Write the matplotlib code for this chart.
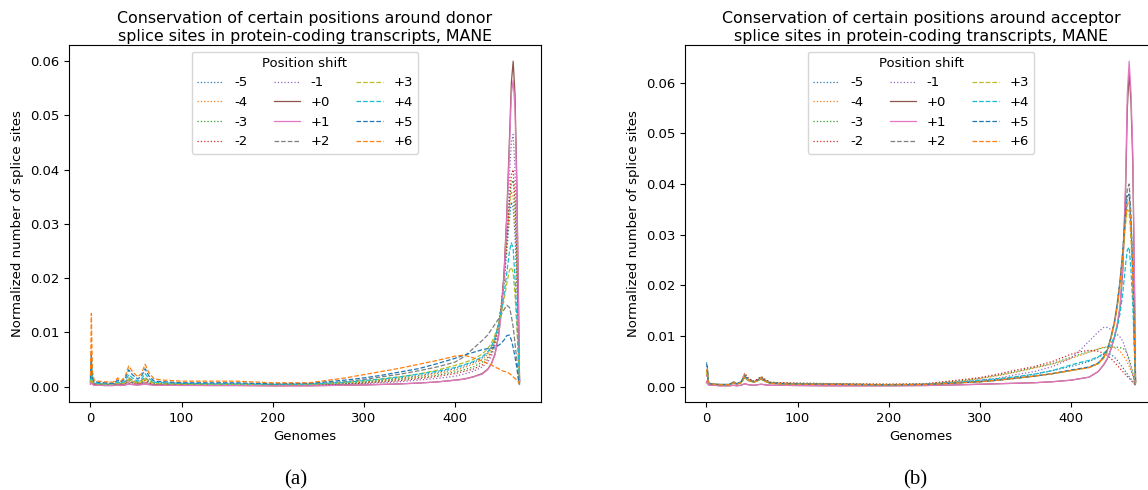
import matplotlib
matplotlib.use("Agg")
import matplotlib.pyplot as plt
import numpy as np

# ---------------- data (values in units of 1e-3) ----------------
genomes = [0, 1, 2, 4, 8, 15, 25, 30, 33, 38, 42, 46, 52, 56, 60, 64, 70, 80, 100, 130, 160,
           200, 240, 280, 300, 320, 340, 360, 380, 400, 410, 420, 430, 436, 440, 444, 448,
           451, 454, 457, 460, 462, 464, 466, 468, 470, 471]

shifts = ["-5", "-4", "-3", "-2", "-1", "+0", "+1", "+2", "+3", "+4", "+5", "+6"]

# Donor splice sites (panel a)
donor_m5 = [0.8, 3.0, 0.8, 0.4, 0.4, 0.35, 0.3, 0.6, 0.4, 0.6, 1.1, 0.8, 0.6, 0.7, 1.1, 0.8, 0.5, 0.45, 0.4, 0.35, 0.35,
            0.3, 0.35, 0.6, 0.85, 1.2, 1.6, 2.0, 2.6, 3.3, 3.8, 4.4, 5.3, 6.2, 7.2, 8.8, 11.5, 14.5, 19, 25, 31, 34, 33, 28, 19, 7, 0.6]
donor_m4 = [0.8, 3.0, 0.8, 0.4, 0.4, 0.35, 0.3, 0.6, 0.4, 0.6, 1.2, 0.9, 0.6, 0.8, 1.2, 0.8, 0.5, 0.45, 0.4, 0.35, 0.35,
            0.3, 0.32, 0.55, 0.8, 1.1, 1.45, 1.85, 2.4, 3.0, 3.5, 4.1, 5.0, 5.9, 6.9, 8.5, 11.5, 15, 20, 27, 33, 36, 35, 30, 21, 7.5, 0.6]
donor_m3 = [0.9, 3.5, 0.9, 0.4, 0.4, 0.35, 0.3, 0.6, 0.4, 0.6, 1.3, 0.9, 0.6, 0.8, 1.3, 0.8, 0.5, 0.45, 0.4, 0.35, 0.35,
            0.28, 0.3, 0.5, 0.7, 1.0, 1.3, 1.65, 2.1, 2.7, 3.1, 3.6, 4.5, 5.4, 6.4, 8.2, 11.5, 15, 20, 27, 34, 37.5, 38, 33, 23, 8, 0.6]
donor_m2 = [0.7, 2.5, 0.7, 0.35, 0.35, 0.3, 0.3, 0.5, 0.35, 0.5, 0.9, 0.7, 0.5, 0.6, 0.9, 0.6, 0.4, 0.4, 0.35, 0.3, 0.3,
            0.25, 0.27, 0.45, 0.6, 0.85, 1.1, 1.45, 1.85, 2.4, 2.8, 3.2, 4.0, 5.0, 6.0, 8.0, 11.5, 15, 20, 27, 35, 39, 40, 35, 25, 9, 0.7]
donor_m1 = [0.6, 2.0, 0.6, 0.3, 0.3, 0.25, 0.25, 0.4, 0.3, 0.4, 0.7, 0.5, 0.4, 0.5, 0.7, 0.5, 0.35, 0.3, 0.3, 0.25, 0.25,
            0.2, 0.22, 0.38, 0.5, 0.7, 0.9, 1.2, 1.5, 1.9, 2.3, 2.8, 3.6, 4.5, 5.5, 7.5, 11, 15, 21, 29, 39, 45, 46.5, 40, 28, 10, 0.8]
donor_p0 = [0.5, 1.5, 0.5, 0.3, 0.3, 0.2, 0.2, 0.3, 0.2, 0.3, 0.5, 0.4, 0.3, 0.4, 0.5, 0.4, 0.3, 0.3, 0.25, 0.2, 0.2,
            0.15, 0.15, 0.25, 0.3, 0.4, 0.5, 0.65, 0.85, 1.2, 1.4, 1.8, 2.4, 3.2, 4.2, 6.0, 9.5, 14, 21, 32, 46, 56, 60, 54, 38, 14, 1.0]
donor_p1 = [0.4, 1.2, 0.4, 0.25, 0.25, 0.2, 0.2, 0.3, 0.2, 0.3, 0.45, 0.35, 0.3, 0.35, 0.45, 0.35, 0.25, 0.25, 0.2, 0.2, 0.2,
            0.15, 0.15, 0.25, 0.3, 0.4, 0.5, 0.65, 0.85, 1.15, 1.35, 1.75, 2.3, 3.1, 4.1, 5.8, 9.2, 13.5, 20.5, 31, 44, 54, 56.5, 51, 36, 13, 1.0]
donor_p2 = [1.0, 4.0, 1.2, 0.6, 0.5, 0.5, 0.4, 0.8, 0.5, 0.8, 1.6, 1.2, 0.8, 1.1, 1.7, 1.1, 0.7, 0.6, 0.5, 0.5, 0.5,
            0.4, 0.45, 0.9, 1.3, 1.8, 2.3, 2.9, 3.6, 4.5, 5.5, 7.0, 8.5, 9.5, 10.5, 11.5, 12.5, 13.3, 14.2, 15.0, 14.6, 13.0, 11.0, 8.0, 5.0, 1.2, 0.4]
donor_p3 = [0.8, 3.5, 1.0, 0.5, 0.5, 0.4, 0.4, 0.7, 0.5, 0.7, 1.4, 1.0, 0.7, 0.9, 1.5, 1.0, 0.6, 0.5, 0.45, 0.4, 0.4,
            0.35, 0.4, 0.75, 1.0, 1.4, 1.8, 2.3, 3.0, 3.9, 4.4, 5.0, 6.0, 7.0, 8.0, 9.5, 11.5, 13.5, 16, 19, 21.5, 22, 21, 17, 11, 4, 0.5]
donor_p4 = [1.2, 5.0, 1.5, 0.7, 0.6, 0.5, 0.5, 0.9, 0.6, 1.0, 2.2, 1.6, 1.0, 1.4, 2.4, 1.5, 0.8, 0.7, 0.6, 0.5, 0.5,
            0.4, 0.45, 0.8, 1.1, 1.4, 1.8, 2.3, 2.8, 3.5, 4.0, 4.6, 5.5, 6.4, 7.4, 9.0, 11.5, 14, 17, 21, 25, 26.5, 25.5, 20, 13, 5, 0.5]
donor_p5 = [1.5, 6.5, 2.0, 0.9, 0.8, 0.7, 0.6, 1.2, 0.8, 1.4, 3.1, 2.2, 1.4, 1.9, 3.3, 2.0, 1.0, 0.9, 0.7, 0.7, 0.7,
            0.5, 0.6, 1.2, 1.6, 2.1, 2.7, 3.3, 4.2, 5.2, 5.8, 6.3, 6.8, 7.0, 7.1, 7.3, 7.6, 8.0, 8.6, 9.4, 9.5, 8.6, 7.2, 5.5, 3.5, 1.0, 0.3]
donor_p6 = [2.0, 13.5, 3.0, 1.2, 1.0, 0.9, 0.8, 1.6, 1.0, 1.8, 3.8, 2.8, 1.8, 2.4, 4.1, 2.6, 1.4, 1.2, 1.0, 1.0, 1.0,
            0.7, 0.7, 1.6, 2.2, 2.8, 3.4, 4.1, 4.8, 5.6, 5.8, 5.3, 4.7, 4.3, 4.0, 3.6, 3.3, 3.0, 2.8, 2.7, 2.4, 2.1, 1.8, 1.5, 1.2, 0.8, 0.3]

# Acceptor splice sites (panel b)
acc_m5 = [4.8, 3.0, 1.0, 0.5, 0.45, 0.4, 0.4, 0.8, 0.5, 0.8, 2.0, 1.3, 0.9, 1.2, 1.6, 1.2, 0.7, 0.65, 0.6, 0.5, 0.45,
          0.4, 0.45, 0.9, 1.1, 1.5, 1.9, 2.5, 3.2, 4.0, 4.5, 5.0, 5.8, 6.4, 6.6, 6.4, 5.8, 5.2, 4.5, 3.8, 3.0, 2.5, 2.0, 1.5, 1.0, 0.5, 0.3]
acc_m4 = [2.2, 3.0, 1.0, 0.6, 0.5, 0.45, 0.45, 0.9, 0.6, 0.9, 2.3, 1.5, 1.0, 1.4, 1.9, 1.4, 0.85, 0.75, 0.65, 0.6, 0.5,
          0.45, 0.5, 1.1, 1.6, 2.2, 2.9, 3.7, 4.5, 5.6, 6.2, 6.8, 7.5, 7.8, 7.9, 7.9, 7.7, 7.4, 7.0, 6.3, 5.5, 4.8, 4.0, 3.2, 2.2, 0.9, 0.3]
acc_m3 = [2.5, 3.5, 1.0, 0.6, 0.5, 0.45, 0.45, 1.0, 0.6, 1.0, 2.5, 1.6, 1.1, 1.5, 2.0, 1.5, 0.9, 0.8, 0.7, 0.6, 0.55,
          0.5, 0.55, 1.2, 1.7, 2.3, 3.0, 3.8, 4.6, 5.8, 6.4, 6.9, 7.4, 7.7, 7.8, 7.8, 7.8, 7.8, 7.7, 7.6, 7.2, 6.5, 5.5, 4.2, 2.8, 1.0, 0.3]
acc_m2 = [2.5, 3.0, 1.0, 0.6, 0.5, 0.45, 0.45, 1.0, 0.6, 1.0, 2.7, 1.7, 1.1, 1.5, 2.0, 1.5, 0.9, 0.8, 0.7, 0.65, 0.55,
          0.5, 0.6, 1.4, 1.8, 2.5, 3.3, 4.0, 5.0, 6.4, 6.9, 7.2, 7.0, 6.6, 6.2, 5.6, 4.8, 4.2, 3.6, 3.0, 2.4, 2.0, 1.7, 1.3, 0.9, 0.5, 0.3]
acc_m1 = [2.0, 2.5, 0.8, 0.5, 0.4, 0.35, 0.35, 0.8, 0.5, 0.8, 2.0, 1.3, 0.9, 1.2, 1.6, 1.2, 0.7, 0.6, 0.55, 0.5, 0.45,
          0.4, 0.45, 0.95, 1.3, 1.7, 2.4, 3.0, 4.0, 5.6, 7.2, 9.0, 10.8, 11.7, 11.7, 11.3, 10.8, 10.3, 9.8, 9.0, 7.5, 6.2, 5.0, 3.7, 2.4, 0.9, 0.3]
acc_p0 = [0.8, 1.2, 0.4, 0.3, 0.3, 0.2, 0.2, 0.3, 0.2, 0.3, 0.6, 0.4, 0.3, 0.4, 0.5, 0.4, 0.3, 0.3, 0.25, 0.2, 0.2,
          0.2, 0.25, 0.4, 0.5, 0.6, 0.7, 0.8, 1.0, 1.3, 1.6, 1.9, 3.0, 4.3, 5.5, 7.4, 9.8, 12.2, 15.5, 23, 38, 55, 62, 56, 44, 17, 1.0]
acc_p1 = [0.8, 1.2, 0.4, 0.3, 0.3, 0.2, 0.2, 0.3, 0.2, 0.3, 0.6, 0.4, 0.3, 0.4, 0.5, 0.4, 0.3, 0.3, 0.25, 0.2, 0.2,
          0.2, 0.25, 0.4, 0.5, 0.6, 0.7, 0.8, 1.0, 1.3, 1.6, 1.9, 3.0, 4.4, 5.6, 7.5, 10, 12.5, 16, 24, 40, 58, 64.2, 58, 46, 18, 1.0]
acc_p2 = [3.0, 3.5, 1.0, 0.6, 0.5, 0.4, 0.4, 0.8, 0.5, 0.8, 1.8, 1.2, 0.9, 1.2, 1.5, 1.1, 0.7, 0.6, 0.5, 0.5, 0.45,
          0.4, 0.45, 0.8, 1.0, 1.3, 1.7, 2.1, 2.6, 3.2, 3.5, 3.8, 4.6, 5.8, 7.2, 9.8, 13, 16.5, 21, 27, 35, 39, 40, 34, 24, 8, 0.8]
acc_p3 = [2.5, 3.0, 1.0, 0.6, 0.5, 0.4, 0.4, 0.8, 0.5, 0.8, 1.8, 1.2, 0.9, 1.2, 1.5, 1.1, 0.7, 0.6, 0.5, 0.5, 0.45,
          0.4, 0.45, 0.8, 1.0, 1.3, 1.7, 2.1, 2.6, 3.2, 3.5, 3.8, 4.5, 5.6, 7.0, 9.4, 12.5, 15.5, 20, 25.5, 32, 35, 34.5, 29, 21, 7, 0.7]
acc_p4 = [3.0, 3.5, 1.0, 0.6, 0.5, 0.45, 0.45, 0.9, 0.6, 0.9, 2.0, 1.3, 0.9, 1.3, 1.7, 1.2, 0.75, 0.65, 0.55, 0.5, 0.45,
          0.4, 0.5, 0.95, 1.3, 1.6, 2.0, 2.5, 3.2, 4.3, 4.8, 5.2, 5.9, 6.6, 7.3, 8.4, 10, 11.8, 14.5, 18.5, 24, 27, 27.5, 23, 16, 5.5, 0.6]
acc_p5 = [4.5, 4.0, 1.1, 0.6, 0.5, 0.45, 0.45, 0.9, 0.6, 0.9, 2.1, 1.4, 1.0, 1.3, 1.7, 1.2, 0.75, 0.65, 0.55, 0.5, 0.45,
          0.4, 0.45, 0.8, 1.0, 1.3, 1.7, 2.1, 2.6, 3.3, 3.6, 3.9, 4.7, 5.9, 7.3, 9.8, 13, 16.5, 21, 26.5, 34, 37.5, 38, 32, 23, 7.5, 0.8]
acc_p6 = [3.0, 3.5, 1.0, 0.6, 0.5, 0.4, 0.4, 0.8, 0.5, 0.8, 1.9, 1.3, 0.9, 1.2, 1.6, 1.1, 0.7, 0.6, 0.5, 0.5, 0.45,
          0.4, 0.45, 0.8, 1.0, 1.3, 1.7, 2.1, 2.6, 3.2, 3.5, 3.8, 4.6, 5.8, 7.2, 9.6, 12.8, 16, 20.5, 26, 33, 36, 36.6, 31, 22, 7.5, 0.8]

donor_series = [donor_m5, donor_m4, donor_m3, donor_m2, donor_m1, donor_p0,
                donor_p1, donor_p2, donor_p3, donor_p4, donor_p5, donor_p6]
acc_series = [acc_m5, acc_m4, acc_m3, acc_m2, acc_m1, acc_p0,
              acc_p1, acc_p2, acc_p3, acc_p4, acc_p5, acc_p6]

titles = ["Conservation of certain positions around donor\nsplice sites in protein-coding transcripts, MANE",
          "Conservation of certain positions around acceptor\nsplice sites in protein-coding transcripts, MANE"]
captions = ["(a)", "(b)"]

# ---------------- styling ----------------
colors = plt.get_cmap("tab10").colors
styles = [":"] * 5 + ["-"] * 2 + ["--"] * 5

W, H = 1148, 490
plt.rcParams["font.family"] = ["DejaVu Sans"]
fig = plt.figure(figsize=(W / 100, H / 100), dpi=100)

ax_rects = [[69 / W, 88 / H, 472 / W, 357 / H],
            [685 / W, 88 / H, 472 / W, 357 / H]]
caption_x = [296 / W, 915 / W]

x = np.array(genomes)
for k, (series, rect) in enumerate(zip([donor_series, acc_series], ax_rects)):
    ax = fig.add_axes(rect)
    for i, (lab, vals) in enumerate(zip(shifts, series)):
        ax.plot(x, np.array(vals) * 1e-3, linestyle=styles[i], color=colors[i % 10],
                linewidth=0.9, label=lab)
    ax.set_title(titles[k], fontsize=11.4, pad=3)
    ax.set_xlabel("Genomes", fontsize=9.5)
    ax.set_ylabel("Normalized number of splice sites", fontsize=9.5)
    ax.tick_params(labelsize=9.5)
    ax.set_xticks([0, 100, 200, 300, 400])
    ax.legend(title="Position shift", ncol=3, loc="upper center",
              fontsize=9.5, title_fontsize=9.5)
    fig.text(caption_x[k], 10 / H, captions[k], ha="center", va="center",
             fontsize=15, family="Liberation Serif")

fig.savefig("out.png", dpi=100)
